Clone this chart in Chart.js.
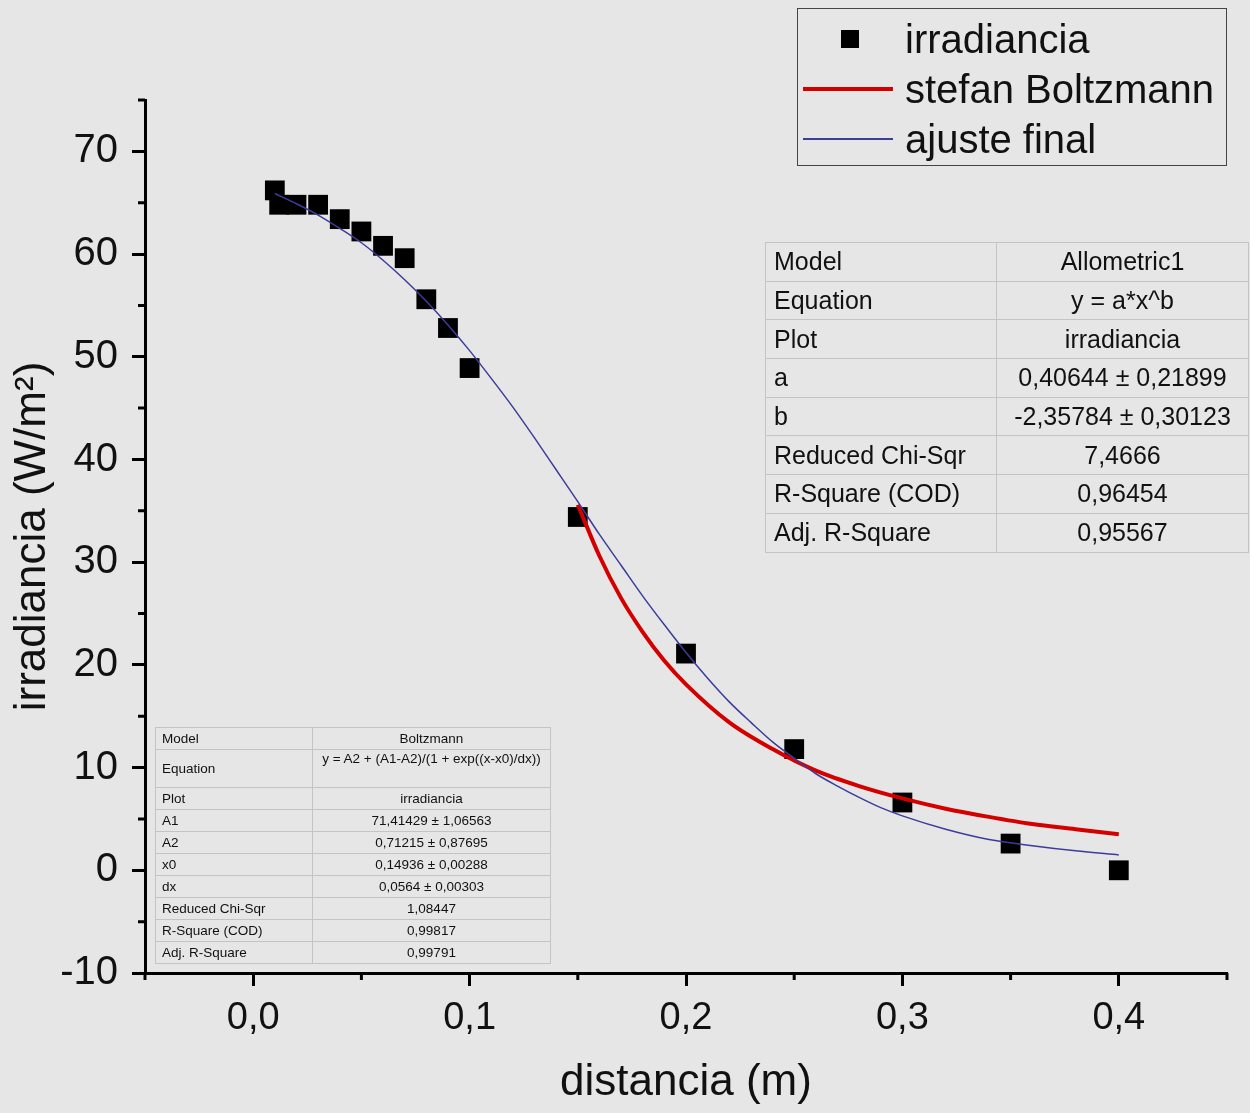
<!DOCTYPE html>
<html>
<head>
<meta charset="utf-8">
<script src="https://cdn.jsdelivr.net/npm/chart.js@4.4.1/dist/chart.umd.min.js"></script>
<style>
  body { margin: 0; background: #e6e6e6; font-family: "Liberation Sans", Arial, sans-serif; color: #111; }
  #wrap { position: relative; width: 1250px; height: 1113px; }
  #legend { position: absolute; left: 797px; top: 8px; width: 428px; height: 156px; border: 1.5px solid #444; }
  .lg-row { position: absolute; left: 0; height: 50px; width: 100%; }
  .lg-row span { position: absolute; left: 107px; top: 0; line-height: 50px; font-size: 40px; }
  .lg-sq { position: absolute; left: 43px; top: 16px; width: 18px; height: 18px; background: #000; }
  .lg-ln { position: absolute; left: 5px; width: 90px; }
  table { position: absolute; border-collapse: collapse; border: 1.5px solid #444; }
  td { border: 1px solid #c4c4c4; padding: 0; white-space: nowrap; }
  td.v { text-align: center; }
  #allo { left: 765px; top: 242px; width: 484px; font-size: 25px; }
  #allo td { height: 37.7px; }
  #allo td.k { padding-left: 8px; width: 222px; }
  #boltz { left: 155px; top: 727px; width: 396px; font-size: 13.5px; }
  #boltz td { height: 21px; }
  #boltz td.k { padding-left: 6px; width: 150px; }
  #boltz td.top { vertical-align: top; padding-top: 1px; }
</style>
</head>
<body>
<div id="wrap">
  <canvas id="chart"></canvas>
  <div id="legend"></div>
  <table id="allo"></table>
  <table id="boltz"></table>
</div>
<script>
// measured points: irradiancia vs distancia
const distancia = [0.01, 0.012, 0.02, 0.03, 0.04, 0.05, 0.06, 0.07, 0.08, 0.09, 0.10, 0.15, 0.20, 0.25, 0.30, 0.35, 0.40];
const irradiancia = [66.2, 64.8, 64.8, 64.8, 63.4, 62.2, 60.8, 59.6, 55.6, 52.8, 48.9, 34.4, 21.1, 11.8, 6.6, 2.6, 0.0];

// red curve (stefan Boltzmann)
const sbX = [0.15, 0.16, 0.17, 0.18, 0.19, 0.20, 0.22, 0.24, 0.26, 0.28, 0.30, 0.32, 0.34, 0.36, 0.38, 0.40];
const sbY = [35.6, 30.6, 26.5, 23.2, 20.4, 18.1, 14.4, 11.8, 9.7, 8.2, 7.0, 6.0, 5.2, 4.5, 4.0, 3.5];

// blue curve (ajuste final)
const ajX = [0.01, 0.02, 0.03, 0.04, 0.05, 0.06, 0.07, 0.08, 0.09, 0.10,
             0.11, 0.12, 0.13, 0.14, 0.15, 0.16, 0.17, 0.18, 0.19, 0.20,
             0.21, 0.22, 0.23, 0.24, 0.25, 0.26, 0.27, 0.28, 0.29, 0.30,
             0.32, 0.34, 0.36, 0.38, 0.40];
const ajY = [65.9, 64.9, 63.8, 62.5, 61.1, 59.4, 57.5, 55.4, 53.1, 50.6,
             47.9, 45.1, 42.1, 39.0, 35.9, 32.7, 29.7, 26.7, 23.9, 21.2,
             18.7, 16.4, 14.4, 12.5, 10.9, 9.4, 8.2, 7.1, 6.1, 5.3,
             4.0, 3.0, 2.4, 1.9, 1.5];

// tick labels
const xMajor = [0, 0.1, 0.2, 0.3, 0.4];
const xLabels = ['0,0', '0,1', '0,2', '0,3', '0,4'];
const yMajor = [-10, 0, 10, 20, 30, 40, 50, 60, 70];
const yLabels = ['-10', '0', '10', '20', '30', '40', '50', '60', '70'];

// legend
const legendNames = ['irradiancia', 'stefan Boltzmann', 'ajuste final'];

// fit tables
const alloKeys = ['Model', 'Equation', 'Plot', 'a', 'b', 'Reduced Chi-Sqr', 'R-Square (COD)', 'Adj. R-Square'];
const alloVals = ['Allometric1', 'y = a*x^b', 'irradiancia', '0,40644 ± 0,21899', '-2,35784 ± 0,30123', '7,4666', '0,96454', '0,95567'];
const boltzKeys = ['Model', 'Equation', 'Plot', 'A1', 'A2', 'x0', 'dx', 'Reduced Chi-Sqr', 'R-Square (COD)', 'Adj. R-Square'];
const boltzVals = ['Boltzmann', 'y = A2 + (A1-A2)/(1 + exp((x-x0)/dx))', 'irradiancia', '71,41429 ± 1,06563', '0,71215 ± 0,87695',
                   '0,14936 ± 0,00288', '0,0564 ± 0,00303', '1,08447', '0,99817', '0,99791'];

const red = '#d40000';
const blue = '#3c3c9c';

function majorIndex(v, list) {
  for (let i = 0; i < list.length; i++) {
    if (Math.abs(v - list[i]) < 1e-9) return i;
  }
  return -1;
}

// short minor ticks
const minorTicks = {
  id: 'minorTicks',
  afterDraw(chart) {
    const ctx = chart.ctx;
    const xs = chart.scales.x, ys = chart.scales.y;
    ctx.save();
    ctx.strokeStyle = '#000';
    ctx.lineWidth = 3;
    ctx.beginPath();
    xs.ticks.forEach(t => {
      if (majorIndex(t.value, xMajor) < 0) {
        const px = xs.getPixelForValue(t.value);
        ctx.moveTo(px, xs.top);
        ctx.lineTo(px, xs.top + 7);
      }
    });
    ys.ticks.forEach(t => {
      if (majorIndex(t.value, yMajor) < 0) {
        const py = ys.getPixelForValue(t.value);
        ctx.moveTo(ys.right, py);
        ctx.lineTo(ys.right - 7, py);
      }
    });
    ctx.stroke();
    ctx.restore();
  }
};

const pts = distancia.map((x, i) => ({ x: x, y: irradiancia[i] }));
const sbPts = sbX.map((x, i) => ({ x: x, y: sbY[i] }));
const ajPts = ajX.map((x, i) => ({ x: x, y: ajY[i] }));

new Chart(document.getElementById('chart'), {
  type: 'scatter',
  data: {
    datasets: [
      {
        label: legendNames[0],
        data: pts,
        pointStyle: 'rect',
        pointRadius: 14,
        pointHoverRadius: 14,
        backgroundColor: '#000',
        borderWidth: 0,
        order: 3
      },
      {
        label: legendNames[1],
        data: sbPts,
        showLine: true,
        borderColor: red,
        borderWidth: 4,
        pointRadius: 0,
        cubicInterpolationMode: 'monotone',
        order: 2
      },
      {
        label: legendNames[2],
        data: ajPts,
        showLine: true,
        borderColor: blue,
        borderWidth: 1.5,
        pointRadius: 0,
        cubicInterpolationMode: 'monotone',
        order: 1
      }
    ]
  },
  options: {
    responsive: true,
    maintainAspectRatio: false,
    animation: false,
    layout: { padding: { top: 100, right: 23, left: 0, bottom: 0 } },
    scales: {
      x: {
        type: 'linear',
        min: -0.05,
        max: 0.45,
        afterFit: (scale) => { scale.height = 140; },
        border: { display: true, color: '#000', width: 3 },
        grid: {
          drawOnChartArea: false,
          tickLength: 13,
          tickWidth: 3,
          tickColor: (c) => majorIndex(c.tick.value, xMajor) >= 0 ? '#000' : 'rgba(0,0,0,0)'
        },
        ticks: {
          stepSize: 0.05,
          autoSkip: false,
          maxRotation: 0,
          padding: 10,
          color: '#111',
          font: { family: 'Liberation Sans', size: 38 },
          callback: (v) => {
            const i = majorIndex(v, xMajor);
            return i >= 0 ? xLabels[i] : '';
          }
        },
        title: {
          display: true,
          text: 'distancia (m)',
          color: '#111',
          font: { family: 'Liberation Sans', size: 44 },
          padding: { top: 0, bottom: 4 }
        }
      },
      y: {
        type: 'linear',
        min: -10,
        max: 75,
        afterFit: (scale) => { scale.width = 145; },
        border: { display: true, color: '#000', width: 3 },
        grid: {
          drawOnChartArea: false,
          tickLength: 13,
          tickWidth: 3,
          tickColor: (c) => majorIndex(c.tick.value, yMajor) >= 0 ? '#000' : 'rgba(0,0,0,0)'
        },
        ticks: {
          stepSize: 5,
          autoSkip: false,
          padding: 14,
          color: '#111',
          font: { family: 'Liberation Sans', size: 40 },
          callback: (v) => {
            const i = majorIndex(v, yMajor);
            return i >= 0 ? yLabels[i] : '';
          }
        },
        title: {
          display: true,
          text: 'irradiancia (W/m²)',
          color: '#111',
          font: { family: 'Liberation Sans', size: 44 },
          padding: { top: 6, bottom: 0 }
        }
      }
    },
    plugins: {
      legend: { display: false },
      tooltip: { enabled: false }
    }
  },
  plugins: [minorTicks]
});

// legend box
const legend = document.getElementById('legend');
legendNames.forEach((name, i) => {
  const row = document.createElement('div');
  row.className = 'lg-row';
  row.style.top = (5 + i * 50) + 'px';
  let mark;
  if (i === 0) {
    mark = document.createElement('div');
    mark.className = 'lg-sq';
  } else {
    mark = document.createElement('div');
    mark.className = 'lg-ln';
    const w = i === 1 ? 4 : 1.5;
    mark.style.top = (25 - w / 2) + 'px';
    mark.style.height = w + 'px';
    mark.style.background = i === 1 ? red : blue;
  }
  row.appendChild(mark);
  const s = document.createElement('span');
  s.textContent = name;
  row.appendChild(s);
  legend.appendChild(row);
});

// fit tables
function fillTable(id, keys, vals) {
  const t = document.getElementById(id);
  keys.forEach((k, i) => {
    const tr = document.createElement('tr');
    const a = document.createElement('td');
    a.className = 'k';
    a.textContent = k;
    const b = document.createElement('td');
    b.className = 'v';
    b.textContent = vals[i];
    if (id === 'boltz' && k === 'Equation') {
      a.style.height = '37px';
      b.className = 'v top';
    }
    tr.appendChild(a);
    tr.appendChild(b);
    t.appendChild(tr);
  });
}
fillTable('allo', alloKeys, alloVals);
fillTable('boltz', boltzKeys, boltzVals);
</script>
</body>
</html>
